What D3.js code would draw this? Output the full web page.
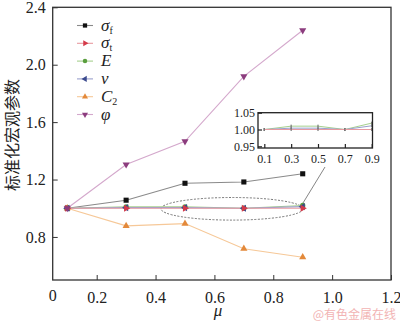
<!DOCTYPE html>
<html><head><meta charset="utf-8">
<script src="https://cdn.jsdelivr.net/npm/d3@7"></script>
<style>body{margin:0;background:#fff}svg{display:block}
svg text{font-family:"Liberation Serif","Times New Roman","DejaVu Serif",serif}
svg text.cjk{font-family:"Noto Sans CJK SC",sans-serif}
</style>
</head><body>
<svg id="c" width="400" height="322"></svg>
<script>
const mu = [0.1, 0.3, 0.5, 0.7, 0.9];
const sigmaF = [1.0, 1.056, 1.174, 1.183, 1.240];
const sigmaT = [1.0, 1.0, 1.0, 1.0, 1.0];
const eMod = [1.0, 1.01, 1.01, 1.0, 1.019];
const nu = [1.0, 1.004, 1.004, 1.0, 1.011];
const c2 = [1.0, 0.877, 0.893, 0.718, 0.659];
const phi = [1.0, 1.305, 1.466, 1.919, 2.240];
const xTicks = [0.2, 0.4, 0.6, 0.8, 1.0, 1.2];
const yTicks = [0.8, 1.2, 1.6, 2.0, 2.4];
const insetXTicks = [0.1, 0.3, 0.5, 0.7, 0.9];
const insetYTicks = [0.95, 1.00, 1.05];

const series = [
  {name:"σ", sub:"f", vals:sigmaF, mk:"#111", ln:"#8a8a8a", sym:d3.symbolSquare, rot:0},
  {name:"σ", sub:"t", vals:sigmaT, mk:"#d43a4a", ln:"#e89aa0", sym:d3.symbolTriangle, rot:90},
  {name:"E", sub:"", vals:eMod, mk:"#5a9e3e", ln:"#a6d08e", sym:d3.symbolCircle, rot:0},
  {name:"ν", sub:"", vals:nu, mk:"#3b4a8e", ln:"#9aa0cc", sym:d3.symbolTriangle, rot:-90},
  {name:"C", sub:"2", vals:c2, mk:"#e3893a", ln:"#f6c898", sym:d3.symbolTriangle, rot:0},
  {name:"φ", sub:"", vals:phi, mk:"#8c3c7e", ln:"#d4a8cc", sym:d3.symbolTriangle, rot:180}
];

const svg = d3.select("#c");
const L = 52.7, R = 391, T = 7.3, B = 280;
const x = d3.scaleLinear().domain([0.0505, 1.2]).range([L, R]);
const y = d3.scaleLinear().domain([0.5, 2.4]).range([B, T]);

// axes (ticks inward)
const gx = svg.append("g").attr("transform", `translate(0,${B})`)
  .call(d3.axisBottom(x).tickValues(xTicks).tickSizeInner(-5).tickSizeOuter(0).tickPadding(9).tickFormat(d3.format(".1f")));
const gy = svg.append("g").attr("transform", `translate(${L},0)`)
  .call(d3.axisLeft(y).tickValues(yTicks).tickSizeInner(-5).tickSizeOuter(0).tickPadding(7).tickFormat(d3.format(".1f")));
[gx, gy].forEach(g => {
  g.select(".domain").remove();
  g.selectAll("line").attr("stroke", "#333").attr("stroke-width", 1);
  g.selectAll("text").attr("font-size", 16).attr("fill", "#222");
});
gx.selectAll("text").attr("dy", "0.9em");
svg.append("text").attr("x", L).attr("y", 301).attr("text-anchor", "middle")
  .attr("font-size", 16).attr("fill", "#222").text("0");
// frame
svg.append("rect").attr("x", L).attr("y", T).attr("width", R - L).attr("height", B - T)
  .attr("fill", "none").attr("stroke", "#333").attr("stroke-width", 1.3);

// titles
svg.append("text").attr("class", "cjk").attr("transform", "translate(18,135) rotate(-90)").attr("text-anchor", "middle")
  .attr("font-size", 16).attr("fill", "#222").text("标准化宏观参数");
svg.append("text").attr("x", 218).attr("y", 316).attr("text-anchor", "middle")
  .attr("font-style", "italic").attr("font-size", 17).attr("fill", "#222").text("μ");

// ellipse + connector
svg.append("ellipse").attr("cx", 232).attr("cy", 208.8).attr("rx", 71).attr("ry", 11.3)
  .attr("fill", "none").attr("stroke", "#666").attr("stroke-width", 0.9).attr("stroke-dasharray", "2,1.5");
svg.append("line").attr("x1", 303).attr("y1", 203).attr("x2", 325).attr("y2", 167)
  .attr("stroke", "#666").attr("stroke-width", 0.8);

// series
const line = d3.line().x((d, i) => x(mu[i])).y(d => y(d));
const order = [0, 4, 2, 3, 1, 5];
order.forEach(k => {
  const s = series[k];
  svg.append("path").attr("d", line(s.vals)).attr("fill", "none").attr("stroke", s.ln).attr("stroke-width", 1.1);
});
order.forEach(k => {
  const s = series[k];
  const sym = d3.symbol().type(s.sym).size(s.sym === d3.symbolSquare ? 26 : 22);
  svg.append("g").selectAll("path").data(s.vals).join("path")
    .attr("d", sym)
    .attr("transform", (d, i) => `translate(${x(mu[i])},${y(d)}) rotate(${s.rot})`)
    .attr("fill", s.mk);
});

// legend
const lg = svg.append("g");
series.forEach((s, i) => {
  const yy = 25.5 + i * 17.8;
  lg.append("line").attr("x1", 77).attr("x2", 93).attr("y1", yy).attr("y2", yy).attr("stroke", s.ln).attr("stroke-width", 1.1);
  lg.append("path").attr("d", d3.symbol().type(s.sym).size(s.sym === d3.symbolSquare ? 18 : 16))
    .attr("transform", `translate(85,${yy}) rotate(${s.rot})`).attr("fill", s.mk);
  const t = lg.append("text").attr("x", 101).attr("y", yy + 5).attr("font-size", 17).attr("fill", "#222");
  t.append("tspan").attr("font-style", "italic").text(s.name);
  if (s.sub) t.append("tspan").attr("font-size", 10).attr("dy", 3).text(s.sub);
});

// inset
const iL = 258, iR = 372.5, iT = 112.7, iB = 148;
const ix = d3.scaleLinear().domain([0.053, 0.906]).range([iL, iR]);
const iy = d3.scaleLinear().domain([0.945, 1.05]).range([iB, iT]);
const ins = svg.append("g");
ins.append("rect").attr("x", iL).attr("y", iT).attr("width", iR - iL).attr("height", iB - iT).attr("fill", "#fff");
const ig = ins.append("g").attr("transform", `translate(0,${iB})`)
  .call(d3.axisBottom(ix).tickValues(insetXTicks).tickSizeInner(-4).tickSizeOuter(0).tickPadding(6).tickFormat(d3.format(".1f")));
const igy = ins.append("g").attr("transform", `translate(${iL},0)`)
  .call(d3.axisLeft(iy).tickValues(insetYTicks).tickSizeInner(-4).tickSizeOuter(0).tickPadding(3).tickFormat(d3.format(".2f")));
[ig, igy].forEach(g => {
  g.select(".domain").remove();
  g.selectAll("line").attr("stroke", "#222").attr("stroke-width", 1.2);
  g.selectAll("text").attr("font-size", 12).attr("fill", "#222");
});
const iline = d3.line().x((d, i) => ix(mu[i])).y(d => iy(d));
[2, 3, 1].forEach(k => {
  const s = series[k];
  ins.append("path").attr("d", iline(s.vals)).attr("fill", "none").attr("stroke", s.ln).attr("stroke-width", 1);
  ins.append("g").selectAll("rect").data(s.vals).join("rect")
    .attr("x", (d, i) => ix(mu[i]) - 0.6).attr("y", d => iy(d) - 1.5).attr("width", 1.2).attr("height", 3)
    .attr("fill", "#777");
});
ins.append("rect").attr("x", iL).attr("y", iT).attr("width", iR - iL).attr("height", iB - iT)
  .attr("fill", "none").attr("stroke", "#222").attr("stroke-width", 1.3);

// watermark
svg.append("text").attr("class", "cjk").attr("x", 396).attr("y", 319).attr("text-anchor", "end")
  .attr("font-size", 12).attr("fill", "#f2b4b4").text("@有色金属在线");
</script>
</body></html>
